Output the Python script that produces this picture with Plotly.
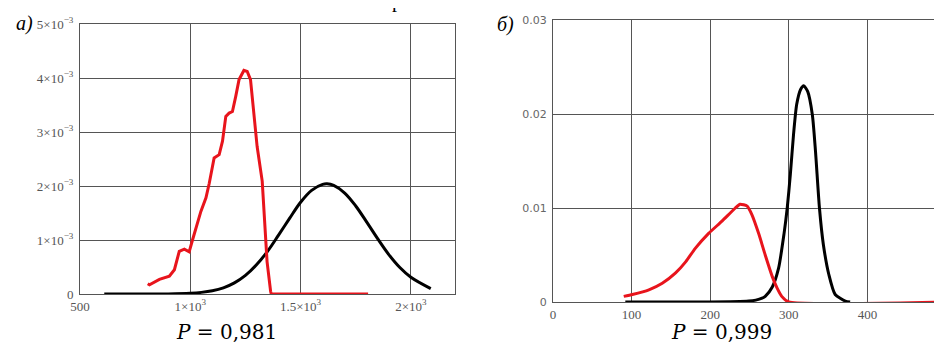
import plotly.graph_objects as go

# ---- panel a) data ----
a_red_x = [807, 815, 860, 905, 928, 950, 973, 995, 1010, 1048, 1071, 1086, 1108, 1131, 1146,
           1161, 1176, 1191, 1206, 1221, 1243, 1258, 1273, 1288, 1303, 1326, 1333, 1348, 1364,
           1367, 1806]
a_red_y = [0.19, 0.17, 0.27, 0.33, 0.45, 0.79, 0.83, 0.78, 1.00, 1.53, 1.78, 2.05, 2.52, 2.58,
           2.83, 3.29, 3.35, 3.38, 3.66, 3.97, 4.14, 4.12, 3.97, 3.35, 2.73, 2.09, 1.59, 0.60,
           0.05, 0.0, 0.0]
a_blk_x = [610, 700, 800, 900, 1000, 1050, 1100, 1150, 1200, 1250, 1300, 1350, 1400, 1450, 1500,
           1550, 1600, 1620, 1650, 1700, 1750, 1800, 1850, 1900, 1950, 2000, 2090]
a_blk_y = [0.0, 0.0, 0.0, 0.002, 0.014, 0.030, 0.060, 0.115, 0.206, 0.344, 0.54, 0.79, 1.09,
           1.40, 1.70, 1.92, 2.03, 2.04, 2.01, 1.87, 1.63, 1.33, 1.02, 0.73, 0.49, 0.31, 0.10]
a_xticks = [500, 1000, 1500, 2000]
a_xtext = ["500", "1×10<sup>3</sup>", "1.5×10<sup>3</sup>", "2×10<sup>3</sup>"]
a_yticks = [0, 1, 2, 3, 4, 5]
a_ytext = ["0", "1×10<sup>−3</sup>", "2×10<sup>−3</sup>", "3×10<sup>−3</sup>",
           "4×10<sup>−3</sup>", "5×10<sup>−3</sup>"]

# ---- panel б) data ----
b_red_x = [90, 101, 122, 139, 156, 169, 181, 198, 215, 232, 238, 247, 253, 262, 270, 279, 285,
           291, 300, 500]
b_red_y = [0.0006, 0.0008, 0.0013, 0.0020, 0.0031, 0.0043, 0.0057, 0.0073, 0.0086, 0.0100,
           0.0104, 0.0102, 0.0093, 0.0072, 0.0050, 0.0027, 0.0015, 0.0006, 0.0, 0.0]
b_blk_x = [92, 200, 249, 258, 266, 270, 279, 287, 294, 298, 302, 306, 310, 315, 319, 324, 330,
           334, 339, 344, 351, 359, 372, 378]
b_blk_y = [0.0, 0.0, 0.0001, 0.0002, 0.0004, 0.0006, 0.0016, 0.0036, 0.0073, 0.0100, 0.0136,
           0.0178, 0.0210, 0.0226, 0.0230, 0.0224, 0.0199, 0.0160, 0.0100, 0.0061, 0.0029,
           0.0008, 0.0001, 0.0]
b_xticks = [0, 100, 200, 300, 400]
b_xtext = ["0", "100", "200", "300", "400"]
b_yticks = [0, 0.01, 0.02, 0.03]
b_ytext = ["0", "0.01", "0.02", "0.03"]

W, H = 942, 343
RED = "#e8141c"
GRID = "#555555"
SERIF = "Liberation Serif, Times New Roman, serif"
SANS = "DejaVu Sans, Verdana, sans-serif"
TICK_SERIF = dict(family=SERIF, size=13, color="#555555")
TICK_SANS = dict(family=SANS, size=11, color="#666666")

fig = go.Figure()
fig.add_trace(go.Scatter(x=a_blk_x, y=a_blk_y, mode="lines", xaxis="x", yaxis="y",
                         line=dict(color="black", width=3, shape="spline"), showlegend=False))
fig.add_trace(go.Scatter(x=a_red_x, y=a_red_y, mode="lines", xaxis="x", yaxis="y",
                         line=dict(color=RED, width=3), showlegend=False))
fig.add_trace(go.Scatter(x=b_blk_x, y=b_blk_y, mode="lines", xaxis="x2", yaxis="y2",
                         line=dict(color="black", width=3, shape="spline", smoothing=0.6),
                         showlegend=False))
fig.add_trace(go.Scatter(x=b_red_x, y=b_red_y, mode="lines", xaxis="x2", yaxis="y2",
                         line=dict(color=RED, width=3, shape="spline", smoothing=0.5),
                         showlegend=False))

def ax(domain, rng, vals, text, anchor, font):
    return dict(domain=domain, range=rng, tickmode="array", tickvals=vals, ticktext=text,
                showgrid=True, gridcolor=GRID, gridwidth=1, showline=True, linecolor=GRID,
                linewidth=1, mirror=True, zeroline=False, ticks="", tickfont=font,
                anchor=anchor, fixedrange=True, automargin=False)

fig.update_layout(
    width=W, height=H, margin=dict(l=0, r=0, t=0, b=0),
    paper_bgcolor="white", plot_bgcolor="white",
    xaxis=ax([72 / W, 447 / W], [500, 2200], a_xticks, a_xtext, "y", TICK_SERIF),
    yaxis=ax([(H - 286) / H, (H - 16) / H], [0, 5], a_yticks, a_ytext, "x", TICK_SERIF),
    xaxis2=ax([545 / W, 938 / W], [0, 500], b_xticks, b_xtext, "y2", TICK_SERIF),
    yaxis2=ax([(H - 294) / H, (H - 12) / H], [0, 0.03], b_yticks, b_ytext, "x2", TICK_SANS),
)
fig.update_yaxes(ticklabelstandoff=3)

ann = [
    dict(text="<i>а)</i>", x=6 / W, y=1 - 15 / H, xanchor="left", yanchor="middle",
         font=dict(family=SERIF, size=20, color="black")),
    dict(text="<i>б)</i>", x=487 / W, y=1 - 16 / H, xanchor="left", yanchor="middle",
         font=dict(family=SERIF, size=20, color="black")),
    dict(text="<i>P</i> = 0,981", x=218 / W, y=1 - 324 / H, xanchor="center", yanchor="middle",
         font=dict(family="DejaVu Serif, serif", size=20, color="black")),
    dict(text="<i>P</i> = 0,999", x=713 / W, y=1 - 324 / H, xanchor="center", yanchor="middle",
         font=dict(family="DejaVu Serif, serif", size=20, color="black")),
    dict(text="р", x=389 / W, y=1 + 7 / H, xanchor="center", yanchor="middle",
         font=dict(family=SERIF, size=20, color="black")),
]
for a in ann:
    a.update(xref="paper", yref="paper", showarrow=False)
fig.update_layout(annotations=ann)

fig.write_html("out.html")
